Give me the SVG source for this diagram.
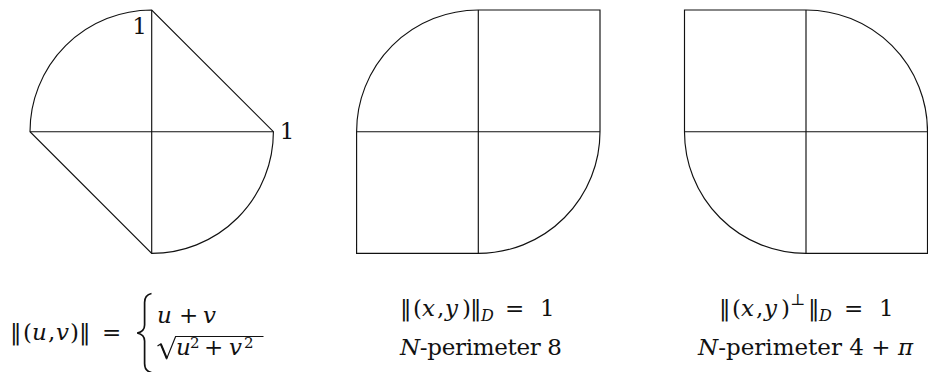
<svg xmlns="http://www.w3.org/2000/svg" width="928" height="372" viewBox="0 0 928 372">
<rect width="928" height="372" fill="#fff"/>
<g id="fig1" fill="none" stroke="#111" stroke-width="1.15">
<path d="M30,131.7 A121.7,121.7 0 0 1 151.7,10 L273.4,131.7 A121.7,121.7 0 0 1 151.7,253.4 Z"/>
<path d="M30,131.7 H273.4 M151.7,10 V253.4"/>
</g>
<text x="139.5" y="34" text-anchor="middle" font-family="DejaVu Serif" font-size="23" fill="#111"><tspan font-family="DejaVu Serif">1</tspan></text>
<text x="287" y="139" text-anchor="middle" font-family="DejaVu Serif" font-size="23" fill="#111"><tspan font-family="DejaVu Serif">1</tspan></text>
<g id="fig2" fill="none" stroke="#111" stroke-width="1.15">
<path d="M356.6,131.7 A121.7,121.7 0 0 1 478.3,10 H600 V131.7 A121.7,121.7 0 0 1 478.3,253.4 H356.6 Z"/>
<path d="M356.6,131.7 H600 M478.3,10 V253.4"/>
</g>
<g id="fig3" fill="none" stroke="#111" stroke-width="1.15">
<path d="M684.5,10 H806 A121.5,121.5 0 0 1 927.5,131.7 V253.4 H806 A121.5,121.5 0 0 1 684.5,131.7 Z"/>
<path d="M684.5,131.7 H927.5 M806,10 V253.4"/>
</g>
<g id="label1">
<text y="340" font-family="DejaVu Serif" font-size="23" fill="#111"><tspan x="10" font-family="DejaVu Serif">‖</tspan><tspan x="23" font-family="DejaVu Serif">(</tspan><tspan x="32" font-family="DejaVu Serif" font-style="italic">u</tspan><tspan x="48" font-family="DejaVu Serif">,</tspan><tspan x="56" font-family="DejaVu Serif" font-style="italic">v</tspan><tspan x="70" font-family="DejaVu Serif">)</tspan><tspan x="79" font-family="DejaVu Serif">‖</tspan><tspan x="102" font-family="DejaVu Serif">=</tspan></text>
<path d="M151.5,293.5 C146.5,294.5 144.6,297.5 144.6,302.5 L144.6,325 C144.6,329.5 142,332 137.2,333 C142,334 144.6,336.5 144.6,341 L144.6,363.5 C144.6,368.5 146.5,371.5 151.5,372.5" fill="none" stroke="#111" stroke-width="1.7"/>
<text y="323" font-family="DejaVu Serif" font-size="23" fill="#111"><tspan x="157" font-family="DejaVu Serif" font-style="italic">u</tspan><tspan x="179" font-family="DejaVu Serif">+</tspan><tspan x="203" font-family="DejaVu Serif" font-style="italic">v</tspan></text>
<path d="M157.5,346 L160.8,344 L166.8,358.5 L175.6,336.5 L263.5,336.5" fill="none" stroke="#111" stroke-width="1.2"/>
<path d="M160.8,344 L166.8,358.5" fill="none" stroke="#111" stroke-width="2"/>
<text y="355" font-family="DejaVu Serif" font-size="23" fill="#111"><tspan x="176" font-family="DejaVu Serif" font-style="italic">u</tspan><tspan x="190" y="348" font-family="DejaVu Serif" font-size="15">2</tspan><tspan x="204" y="355" font-family="DejaVu Serif">+</tspan><tspan x="229" font-family="DejaVu Serif" font-style="italic">v</tspan><tspan x="244" y="348" font-family="DejaVu Serif" font-size="15">2</tspan></text>
</g>
<g id="label2">
<text y="316" font-family="DejaVu Serif" font-size="23" fill="#111"><tspan x="400" font-family="DejaVu Serif">‖</tspan><tspan x="413" font-family="DejaVu Serif">(</tspan><tspan x="422" font-family="DejaVu Serif" font-style="italic">x</tspan><tspan x="437" font-family="DejaVu Serif">,</tspan><tspan x="445" font-family="DejaVu Serif" font-style="italic">y</tspan><tspan x="462" font-family="DejaVu Serif">)</tspan><tspan x="470" font-family="DejaVu Serif">‖</tspan><tspan x="481" y="321" font-family="DejaVu Serif" font-size="16" font-style="italic">D</tspan><tspan x="505" y="316" font-family="DejaVu Serif">=</tspan><tspan x="540" font-family="DejaVu Serif">1</tspan></text>
<text x="400" y="355" textLength="162" lengthAdjust="spacing" font-family="DejaVu Serif" font-size="23" fill="#111"><tspan font-family="DejaVu Serif" font-style="italic">N</tspan><tspan font-family="DejaVu Serif">-perimeter 8</tspan></text>
</g>
<g id="label3">
<text y="316" font-family="DejaVu Serif" font-size="23" fill="#111"><tspan x="719" font-family="DejaVu Serif">‖</tspan><tspan x="732" font-family="DejaVu Serif">(</tspan><tspan x="741" font-family="DejaVu Serif" font-style="italic">x</tspan><tspan x="756" font-family="DejaVu Serif">,</tspan><tspan x="764" font-family="DejaVu Serif" font-style="italic">y</tspan><tspan x="781" font-family="DejaVu Serif">)</tspan><tspan x="790" y="305" font-family="DejaVu Serif" font-size="16">⊥</tspan><tspan x="808" y="316" font-family="DejaVu Serif">‖</tspan><tspan x="819" y="321" font-family="DejaVu Serif" font-size="16" font-style="italic">D</tspan><tspan x="844" y="316" font-family="DejaVu Serif">=</tspan><tspan x="879" font-family="DejaVu Serif">1</tspan></text>
<text x="698" y="355" textLength="215" lengthAdjust="spacing" font-family="DejaVu Serif" font-size="23" fill="#111"><tspan font-family="DejaVu Serif" font-style="italic">N</tspan><tspan font-family="DejaVu Serif">-perimeter 4 + </tspan><tspan font-family="DejaVu Serif" font-style="italic">π</tspan></text>
</g>
</svg>
